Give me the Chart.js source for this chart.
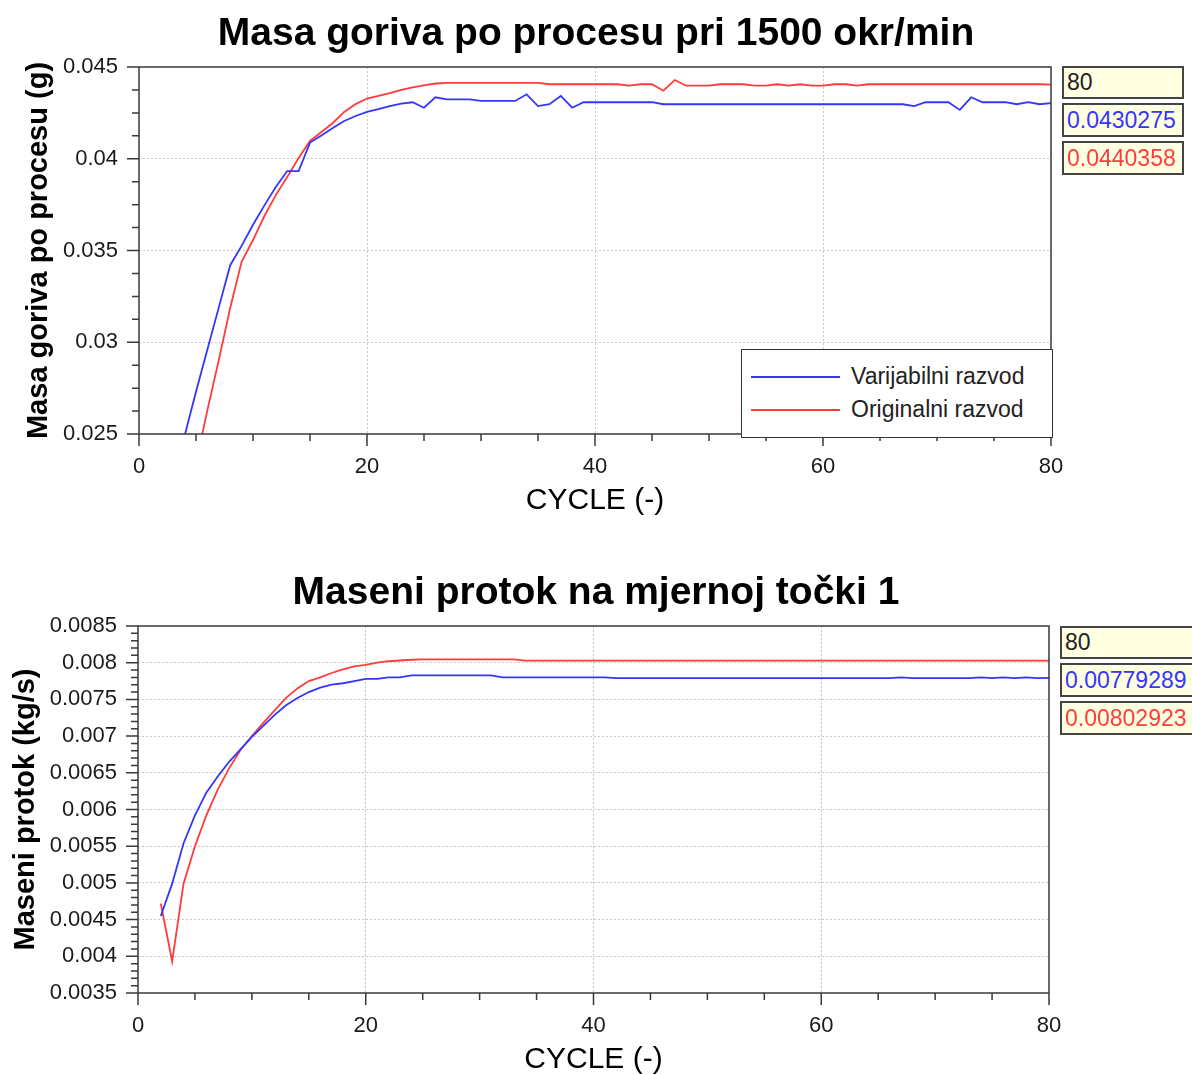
<!DOCTYPE html>
<html><head><meta charset="utf-8">
<script src="https://cdn.jsdelivr.net/npm/chart.js@4.4.1/dist/chart.umd.min.js"></script>
<style>
html,body{margin:0;padding:0;background:#fff;width:1192px;height:1075px;overflow:hidden;font-family:"Liberation Sans",Arial,sans-serif;}
canvas{position:absolute;left:0;}
#c1{top:0;} #c2{top:540px;}
.legend{position:absolute;background:#fff;border:1.5px solid #333;box-sizing:border-box;}
.legend .sw{position:absolute;left:9px;width:89px;height:2px;}
.legend .lbl{position:absolute;left:109px;font-size:23px;color:#222;line-height:28px;white-space:nowrap;}
.vbox{position:absolute;background:#ffffe1;border:2px solid #444;box-sizing:border-box;font-size:23px;padding-left:3px;white-space:nowrap;overflow:hidden;display:flex;align-items:center;}
</style></head><body>
<canvas id="c1" width="1192" height="540"></canvas>
<canvas id="c2" width="1192" height="535"></canvas>
<script>
// ---------- DATA ----------
const seriesNames = ['Varijabilni razvod', 'Originalni razvod'];
const chartTitles = ['Masa goriva po procesu pri 1500 okr/min', 'Maseni protok na mjernoj točki 1'];
const yTitles = ['Masa goriva po procesu (g)', 'Maseni protok (kg/s)'];
const xTitle = 'CYCLE (-)';
const xTicks = [0, 20, 40, 60, 80];
const topYTicks = [0.025, 0.03, 0.035, 0.04, 0.045];
const botYTicks = [0.0035, 0.004, 0.0045, 0.005, 0.0055, 0.006, 0.0065, 0.007, 0.0075, 0.008, 0.0085];

const topCycles = [4,5,6,7,8,9,10,11,12,13,14,15,16,17,18,19,20,21,22,23,24,25,26,27,28,29,30,31,32,33,34,35,36,37,38,39,40,41,42,43,44,45,46,47,48,49,50,51,52,53,54,55,56,57,58,59,60,61,62,63,64,65,66,67,68,69,70,71,72,73,74,75,76,77,78,79,80];
const topVarijabilni = [
 0.0249,0.0273,0.0296,0.0319,0.0342,0.03525,0.0364,0.03746,0.03846,0.03933,
 0.03933,0.04088,0.04127,0.04168,0.04206,0.04233,0.04255,0.04271,0.04287,0.04301,
 0.04308,0.04278,0.04335,0.04324,0.04324,0.04324,0.04315,0.04315,0.04315,0.04315,
 0.04351,0.04287,0.04297,0.04342,0.04278,0.04308,0.04308,0.04308,0.04308,0.04308,
 0.04308,0.04308,0.04297,0.04297,0.04297,0.04297,0.04297,0.04297,0.04297,0.04297,
 0.04297,0.04297,0.04297,0.04297,0.04297,0.04297,0.04297,0.04297,0.04297,0.04297,
 0.04297,0.04297,0.04297,0.04297,0.04287,0.04308,0.04308,0.04308,0.04266,0.04335,
 0.04308,0.04308,0.04308,0.04297,0.04308,0.04297,0.0430275];
const topOriginalni = [
 null,0.02341,0.0263,0.02903,0.03187,0.03438,0.03557,0.03688,0.03802,0.039,
 0.04004,0.04097,0.04146,0.04195,0.04255,0.04298,0.04328,0.04342,0.04358,0.04375,
 0.04389,0.044,0.0441,0.04414,0.04414,0.04414,0.04414,0.04414,0.04414,0.04414,
 0.04414,0.04414,0.04406,0.04406,0.04406,0.04406,0.04406,0.04406,0.04406,0.04398,
 0.04406,0.04406,0.04371,0.04429,0.04398,0.04398,0.04398,0.04406,0.04406,0.04406,
 0.04398,0.04398,0.04406,0.04398,0.04406,0.04398,0.04398,0.04406,0.04406,0.04398,
 0.04406,0.04406,0.04406,0.04406,0.04406,0.04406,0.04406,0.04406,0.04406,0.04406,
 0.04406,0.04406,0.04406,0.04406,0.04406,0.04406,0.0440358];

const botCycles = [2,3,4,5,6,7,8,9,10,11,12,13,14,15,16,17,18,19,20,21,22,23,24,25,26,27,28,29,30,31,32,33,34,35,36,37,38,39,40,41,42,43,44,45,46,47,48,49,50,51,52,53,54,55,56,57,58,59,60,61,62,63,64,65,66,67,68,69,70,71,72,73,74,75,76,77,78,79,80];
const botVarijabilni = [
 0.00455,0.00499,0.00554,0.00592,0.00623,0.00645,0.00665,0.00682,0.00699,0.00714,
 0.00729,0.00742,0.00752,0.0076,0.00766,0.0077,0.00772,0.00775,0.00778,0.00778,
 0.0078,0.0078,0.007828,0.007828,0.007828,0.007828,0.007828,0.007828,0.007828,0.007828,
 0.007801,0.007801,0.007801,0.007801,0.007801,0.007801,0.007801,0.007801,0.007801,0.007801,
 0.007789,0.007789,0.007789,0.007789,0.007789,0.007789,0.007789,0.007789,0.007789,0.007789,
 0.007789,0.007789,0.007789,0.007789,0.007789,0.007789,0.007789,0.007789,0.007789,0.007789,
 0.007789,0.007789,0.007789,0.007789,0.007789,0.007801,0.007789,0.007789,0.007789,0.007789,
 0.007789,0.007789,0.007801,0.007789,0.007801,0.007789,0.007801,0.007789,0.00779289];
const botOriginalni = [
 0.00472,0.00393,0.00499,0.0055,0.00592,0.00627,0.00656,0.00681,0.007,0.00718,
 0.00735,0.00752,0.00765,0.00775,0.0078,0.00786,0.00791,0.00795,0.00797,0.008,
 0.00802,0.00803,0.00804,0.008046,0.008046,0.008046,0.008046,0.008046,0.008046,0.008046,
 0.008046,0.008046,0.008029,0.008029,0.008029,0.008029,0.008029,0.008029,0.008029,0.008029,
 0.008029,0.008029,0.008029,0.008029,0.008029,0.008029,0.008029,0.008029,0.008029,0.008029,
 0.008029,0.008029,0.008029,0.008029,0.008029,0.008029,0.008029,0.008029,0.008029,0.008029,
 0.008029,0.008029,0.008029,0.008029,0.008029,0.008029,0.008029,0.008029,0.008029,0.008029,
 0.008029,0.008029,0.008029,0.008029,0.008029,0.008029,0.008029,0.008029,0.00802923];

// ---------- STYLE ----------
const FONT = '"Liberation Sans", Arial, sans-serif';
const BLUE = '#3535ff';
const RED = '#ff3b3b';

const frameTicks = {
  id: 'frameTicks',
  afterDraw(chart, args, o) {
    const {ctx, chartArea: a} = chart;
    const x = chart.scales.x, y = chart.scales.y;
    const steps = (min, max, step) => { const n = Math.round((max - min) / step); const out = []; for (let i = 0; i <= n; i++) out.push(min + i * step); return out; };
    const isMajor = (v, min, maj) => { const r = (v - min) / maj; return Math.abs(r - Math.round(r)) < 1e-6; };
    ctx.save();
    ctx.strokeStyle = '#3a3a3a';
    ctx.lineWidth = 1.5;
    ctx.beginPath();
    ctx.rect(a.left, a.top, a.right - a.left, a.bottom - a.top);
    steps(x.min, x.max, o.xMinor).forEach(v => {
      const p = x.getPixelForValue(v);
      ctx.moveTo(p, a.bottom); ctx.lineTo(p, a.bottom + (isMajor(v, x.min, o.xMajor) ? 12 : 7));
    });
    steps(y.min, y.max, o.yMinor).forEach(v => {
      const p = y.getPixelForValue(v);
      ctx.moveTo(a.left, p); ctx.lineTo(a.left - (isMajor(v, y.min, o.yMajor) ? 12 : 7), p);
    });
    ctx.stroke();
    ctx.restore();
  }
};

function pts(cycles, vals) { return cycles.map((c, i) => ({x: c, y: vals[i]})); }
const gridColor = ctx => (ctx.type === 'tick' && (ctx.index === 0 || ctx.index === ctx.scale.ticks.length - 1)) ? 'rgba(0,0,0,0)' : '#c9c9c9';

function makeChart(id, cfg) {
  return new Chart(document.getElementById(id), {
    type: 'line',
    data: { datasets: [
      { label: seriesNames[0], data: pts(cfg.cycles, cfg.blue), borderColor: BLUE, borderWidth: 1.8, pointRadius: 0, tension: 0, fill: false },
      { label: seriesNames[1], data: pts(cfg.cycles, cfg.red), borderColor: RED, borderWidth: 1.8, pointRadius: 0, tension: 0, fill: false }
    ]},
    options: {
      responsive: false, animation: false, events: [],
      layout: { padding: 0 },
      plugins: {
        legend: { display: false }, tooltip: { enabled: false },
        title: { display: true, text: cfg.title, color: '#000', font: { family: FONT, size: 39, weight: 'bold', lineHeight: 1.2 }, padding: { top: cfg.tPadTop, bottom: cfg.tPadBot } },
        frameTicks: { xMinor: 5, xMajor: 20, yMinor: cfg.yMinor, yMajor: cfg.yMajor }
      },
      scales: {
        x: { type: 'linear', position: 'bottom', min: 0, max: 80,
          afterBuildTicks: s => { s.ticks = xTicks.map(v => ({value: v})); },
          afterFit: s => { s.height = cfg.xHeight; },
          ticks: { padding: 20, color: '#1a1a1a', font: { family: FONT, size: 22 }, maxRotation: 0, autoSkip: false, callback: v => String(v) },
          grid: { drawTicks: false, color: gridColor, lineWidth: 1 },
          border: { display: false, dash: [2, 2] },
          title: { display: true, text: xTitle, color: '#000', font: { family: FONT, size: 30, lineHeight: 1.2 }, padding: { top: 0, bottom: cfg.xtPad } } },
        y: { type: 'linear', position: 'left', min: cfg.yTicks[0], max: cfg.yTicks[cfg.yTicks.length - 1],
          afterBuildTicks: s => { s.ticks = cfg.yTicks.map(v => ({value: v})); },
          afterFit: s => { s.width = cfg.yWidth; },
          ticks: { padding: 21, color: '#1a1a1a', font: { family: FONT, size: 22 }, autoSkip: false, callback: v => String(v) },
          grid: { drawTicks: false, color: gridColor, lineWidth: 1 },
          border: { display: false, dash: [2, 2] },
          title: { display: true, text: cfg.yTitle, color: '#000', font: { family: FONT, size: 29, weight: 'bold', lineHeight: 1.2 }, padding: { top: cfg.ytPad, bottom: 0 } } },
        yR: { type: 'linear', position: 'right', min: 0, max: 1, display: true,
          afterFit: s => { s.width = cfg.rightW; },
          ticks: { display: false }, grid: { display: false }, border: { display: false } }
      }
    },
    plugins: [frameTicks]
  });
}

makeChart('c1', { cycles: topCycles, blue: topVarijabilni, red: topOriginalni, title: chartTitles[0], yTitle: yTitles[0],
  yTicks: topYTicks, yMinor: 0.00125, yMajor: 0.005, tPadTop: 10.6, tPadBot: 9.6, xHeight: 106, xtPad: 21, yWidth: 139, ytPad: 22, rightW: 141 });
makeChart('c2', { cycles: botCycles, blue: botVarijabilni, red: botOriginalni, title: chartTitles[1], yTitle: yTitles[1],
  yTicks: botYTicks, yMinor: 0.0001, yMajor: 0.0005, tPadTop: 29.6, tPadBot: 9.6, xHeight: 82, xtPad: -3, yWidth: 138, ytPad: 9, rightW: 143 });

// ---------- HTML legend ----------
function addDiv(cls, style, text) { const d = document.createElement('div'); d.className = cls; Object.assign(d.style, style); if (text !== undefined) d.textContent = text; return d; }
const leg = addDiv('legend', { left: '741px', top: '349px', width: '312px', height: '89px' });
[[BLUE, 26, seriesNames[0]], [RED, 59, seriesNames[1]]].forEach(([col, yy, name]) => {
  leg.appendChild(addDiv('sw', { top: yy + 'px', background: col }));
  leg.appendChild(addDiv('lbl', { top: (yy - 14) + 'px' }, name));
});
document.body.appendChild(leg);

// ---------- value boxes (last cycle & last values) ----------
function valueBoxes(left, tops, width, cycles, blue, red) {
  const items = [[String(cycles[cycles.length - 1]), '#222'], [String(blue[blue.length - 1]), BLUE], [String(red[red.length - 1]), RED]];
  items.forEach(([t, col], i) => {
    document.body.appendChild(addDiv('vbox', { left: left + 'px', top: tops[i][0] + 'px', width: width + 'px', height: tops[i][1] + 'px', color: col }, t));
  });
}
valueBoxes(1062, [[66, 33], [103, 34], [141, 34]], 122, topCycles, topVarijabilni, topOriginalni);
valueBoxes(1060, [[626, 33], [663, 34], [701, 34]], 140, botCycles, botVarijabilni, botOriginalni);
</script>
</body></html>
